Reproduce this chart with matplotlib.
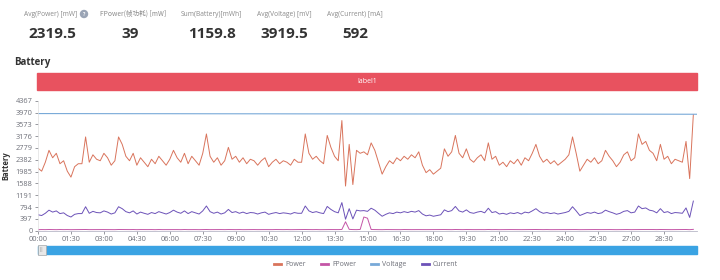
import numpy as np
import matplotlib
matplotlib.use("Agg")
import matplotlib.pyplot as plt
from matplotlib.patches import Rectangle, Ellipse

plt.rcParams['font.family'] = ['Open Sans', 'Noto Sans CJK SC', 'DejaVu Sans']

# summary numbers on top
stat_labels = ["Avg(Power) [mW]", "FPower(帧功耗) [mW]", "Sum(Battery)[mWh]", "Avg(Voltage) [mV]", "Avg(Current) [mA]"]
stat_values = ["2319.5", "39", "1159.8", "3919.5", "592"]

# one sample every 10 s, 30 minutes
power = [
    2100, 2000, 2300, 2700, 2450, 2600, 2250, 2350, 2000, 1800, 2150, 2250,
    2250, 3150, 2300, 2550, 2400, 2350, 2600, 2450, 2200, 2350, 3150, 2900,
    2500, 2350, 2600, 2200, 2450, 2300, 2150, 2400, 2250, 2500, 2350, 2200,
    2400, 2700, 2450, 2300, 2600, 2250, 2500, 2350, 2200, 2600, 3250, 2500,
    2300, 2450, 2200, 2350, 2800, 2400, 2500, 2300, 2450, 2250, 2400, 2350,
    2200, 2350, 2450, 2150, 2300, 2400, 2250, 2350, 2300, 2200, 2400, 2300,
    2300, 3250, 2600, 2400, 2500, 2350, 2250, 3200, 2800, 2500, 2350, 3700,
    1500, 2900, 1550, 2700, 2600, 2650, 2550, 2950, 2700, 2300, 1900, 2150,
    2350, 2250, 2450, 2350, 2500, 2400, 2550, 2450, 2650, 2200, 1950, 2050,
    1900, 2000, 2100, 2750, 2500, 2650, 3200, 2600, 2450, 2750, 2400, 2300,
    2450, 2550, 2350, 2950, 2400, 2500, 2200, 2300, 2150, 2350, 2250, 2400,
    2200, 2450, 2350, 2600, 2900, 2500, 2300, 2400, 2250, 2350, 2200, 2300,
    2400, 2550, 3150, 2600, 2000, 2200, 2400, 2300, 2450, 2250, 2350, 2700,
    2500, 2350, 2150, 2300, 2550, 2650, 2350, 2450, 3250, 2900, 3000, 2700,
    2600, 2350, 2900, 2400, 2500, 2250, 2400, 2350, 2300, 3000, 1750, 3900,
]
current = [
    535, 510, 585, 690, 625, 665, 575, 600, 510, 460, 550, 575,
    575, 805, 585, 650, 610, 600, 665, 625, 560, 600, 805, 740,
    640, 600, 665, 560, 625, 585, 550, 610, 575, 640, 600, 560,
    610, 690, 625, 585, 665, 575, 640, 600, 560, 665, 830, 640,
    585, 625, 560, 600, 715, 610, 640, 585, 625, 575, 610, 600,
    560, 600, 625, 550, 585, 610, 575, 600, 585, 560, 610, 585,
    585, 830, 665, 610, 640, 600, 575, 815, 715, 640, 600, 945,
    385, 740, 395, 690, 665, 675, 650, 755, 690, 585, 485, 550,
    600, 575, 625, 600, 640, 610, 650, 625, 675, 560, 500, 525,
    485, 510, 535, 700, 640, 675, 815, 665, 625, 700, 610, 585,
    625, 650, 600, 755, 610, 640, 560, 585, 550, 600, 575, 610,
    560, 625, 600, 665, 740, 640, 585, 610, 575, 600, 560, 585,
    610, 650, 805, 665, 510, 560, 610, 585, 625, 575, 600, 690,
    640, 600, 550, 585, 650, 675, 600, 625, 830, 740, 765, 690,
    665, 600, 740, 610, 640, 575, 610, 600, 585, 765, 445, 995,
]
fpower = [
    35, 38, 36, 40, 37, 35, 39, 36, 38, 35, 37, 36,
    38, 40, 36, 37, 35, 39, 38, 36, 37, 35, 40, 38,
    36, 37, 39, 35, 38, 36, 37, 38, 35, 39, 36, 37,
    38, 36, 37, 35, 39, 36, 38, 37, 35, 38, 40, 36,
    37, 35, 38, 36, 39, 37, 36, 38, 35, 37, 36, 38,
    36, 38, 37, 35, 36, 39, 37, 36, 38, 35, 37, 36,
    38, 40, 37, 36, 38, 35, 37, 39, 38, 36, 37, 41,
    300, 45, 38, 36, 42, 460, 420, 40, 37, 36, 35, 38,
    37, 36, 38, 35, 39, 37, 36, 38, 37, 35, 36, 37,
    35, 36, 38, 39, 37, 36, 40, 38, 36, 39, 37, 36,
    38, 37, 36, 40, 36, 38, 35, 37, 36, 38, 37, 36,
    36, 38, 37, 39, 40, 37, 36, 38, 35, 37, 36, 37,
    37, 38, 40, 38, 35, 36, 38, 37, 38, 36, 37, 39,
    38, 36, 35, 37, 38, 39, 36, 38, 40, 39, 40, 38,
    39, 37, 40, 38, 38, 36, 37, 38, 37, 40, 35, 45,
]
# voltage read every 2 minutes
volt_min = [0, 2, 4, 6, 8, 10, 12, 14, 16, 18, 20, 22, 24, 26, 28, 30]
voltage = [3935, 3933, 3931, 3930, 3928, 3927, 3925, 3924, 3922, 3921, 3920, 3918, 3917, 3916, 3914, 3912]

y_ticks = [0, 397, 794, 1191, 1588, 1985, 2382, 2779, 3176, 3573, 3970, 4367]
x_tick_labels = ["00:00", "01:30", "03:00", "04:30", "06:00", "07:30", "09:00", "10:30",
                 "12:00", "13:30", "15:00", "16:30", "18:00", "19:30", "21:00", "22:30",
                 "24:00", "25:30", "27:00", "28:30"]

c_power = '#d9745c'
c_fpower = '#c455a6'
c_volt = '#78a9d8'
c_curr = '#6c52b8'

W, H = 720, 280
fig = plt.figure(figsize=(W / 100, H / 100), dpi=100)

def fx(px):
    return px / W

def fy(py):
    return 1 - py / H

# stats row
label_x = [51, 133, 211, 284, 355]
value_x = [52, 130, 212, 284, 355]
for i, lab in enumerate(stat_labels):
    fam = ['Noto Sans CJK SC'] if i == 1 else None
    fig.text(fx(label_x[i]), fy(14), lab, ha='center', va='center', fontsize=4.8,
             color='#8a8a8a', family=fam)
    fig.text(fx(value_x[i]), fy(34), stat_values[i], ha='center', va='center', fontsize=11,
             fontweight='bold', color='#333333')
# little help icon next to first label
fig.patches.append(Ellipse((fx(84), fy(14)), 7 / W, 7 / H, transform=fig.transFigure,
                           color='#9aa4b5', zorder=3))
fig.text(fx(84), fy(14.2), "?", ha='center', va='center', fontsize=3.5, color='white',
         fontweight='bold', zorder=4)

fig.text(fx(14), fy(62), "Battery", ha='left', va='center', fontsize=7,
         fontweight='bold', color='#333333')

# red label bar
fig.patches.append(Rectangle((fx(37), fy(90)), fx(697) - fx(37), 17 / H,
                             transform=fig.transFigure, color='#e8525f', zorder=1))
fig.text(fx(367), fy(81.5), "label1", ha='center', va='center', fontsize=5, color='white')

# main chart
ax = fig.add_axes([fx(38), fy(230.7), fx(697) - fx(38), (230.7 - 100.7) / H])
t = np.arange(len(power)) * 10 / 60.0
ax.plot(t, power, color=c_power, lw=0.7)
ax.plot(t, fpower, color=c_fpower, lw=0.7)
ax.plot(volt_min, voltage, color=c_volt, lw=0.8)
ax.plot(t, current, color=c_curr, lw=0.7)

ax.set_ylim(0, 4367)
ax.set_xlim(0, 30)
ax.set_yticks(y_ticks)
ax.set_yticklabels([str(v) for v in y_ticks])
ax.set_xticks(np.arange(len(x_tick_labels)) * 1.5)
ax.set_xticklabels(x_tick_labels)
for lbl in ax.get_xticklabels()[17:]:
    lbl.set_color('#c8c8c8')
ax.tick_params(axis='both', labelsize=5.3, colors='#6e7079', length=2, width=0.5, pad=2)
for s in ['top', 'right']:
    ax.spines[s].set_visible(False)
ax.spines['left'].set_color('#e0e0e0')
ax.spines['bottom'].set_color('#b8b8c8')
ax.spines['left'].set_linewidth(0.5)
ax.spines['bottom'].set_linewidth(0.6)
ax.set_ylabel("Battery", fontsize=5.5, fontweight='bold', color='#333333', labelpad=4)

# slider below
fig.patches.append(Rectangle((fx(38), fy(254)), fx(697) - fx(38), 8 / H,
                             transform=fig.transFigure, color='#3aa3e3', zorder=1))
fig.patches.append(Rectangle((fx(38), fy(255)), fx(8), 10 / H,
                             transform=fig.transFigure, facecolor='#e8e8e8',
                             edgecolor='#aaaaaa', lw=0.5, zorder=2))
fig.text(fx(42), fy(250), "||", ha='center', va='center', fontsize=3.5, color='#888888')

# legend
handles = ax.get_lines()
leg = fig.legend(handles, ["Power", "FPower", "Voltage", "Current"], loc='center',
                 bbox_to_anchor=(fx(366), fy(265)), ncol=4, frameon=False,
                 fontsize=5, handlelength=1.0, handletextpad=0.6, columnspacing=2.2)
for h in leg.get_lines():
    h.set_linewidth(2)
for txt in leg.get_texts():
    txt.set_color('#6e7079')

fig.savefig("out.png", dpi=100, facecolor='white')
